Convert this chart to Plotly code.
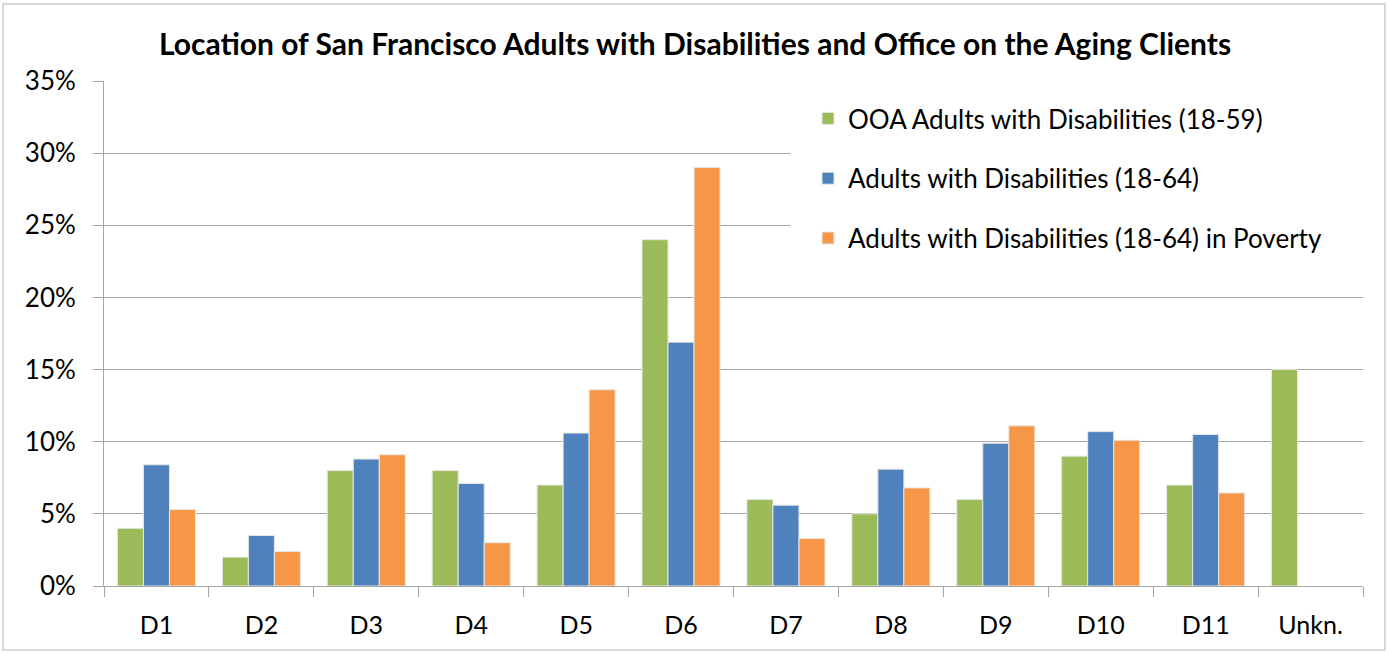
import plotly.graph_objects as go

categories = ["D1", "D2", "D3", "D4", "D5", "D6", "D7", "D8", "D9", "D10", "D11", "Unkn."]
ooa_adults = [4.0, 2.0, 8.0, 8.0, 7.0, 24.0, 6.0, 5.0, 6.0, 9.0, 7.0, 15.0]
adults_disab = [8.4, 3.5, 8.8, 7.1, 10.6, 16.9, 5.6, 8.1, 9.9, 10.7, 10.5, None]
adults_poverty = [5.3, 2.4, 9.1, 3.0, 13.6, 29.0, 3.3, 6.8, 11.1, 10.1, 6.45, None]
y_ticks = [0, 5, 10, 15, 20, 25, 30, 35]
y_tick_labels = [f"{v}%" for v in y_ticks]

series = [
    ("OOA Adults with Disabilities (18-59)", ooa_adults, "#9BBB59"),
    ("Adults with Disabilities (18-64)", adults_disab, "#4F81BD"),
    ("Adults with Disabilities (18-64) in Poverty", adults_poverty, "#F79646"),
]

FONT = "Lato"
W, H = 1390, 654
L, R, T, B = 104, 27, 81, 68
PW, PH = W - L - R, H - T - B


def px_x(px):
    return (px - L) / PW


def px_y(py):
    return (H - B - py) / PH


fig = go.Figure()
for i, (name, vals, color) in enumerate(series):
    fig.add_trace(go.Bar(
        x=categories, y=vals, name=name, legendgroup=f"g{i}",
        marker=dict(color=color, line=dict(color="#E6E6E6", width=1)),
    ))

fig.update_layout(
    width=W, height=H,
    margin=dict(l=L, r=R, t=T, b=B),
    paper_bgcolor="white", plot_bgcolor="white",
    barmode="group", bargap=0.256, bargroupgap=0,
    font=dict(family=FONT, color="#000000", size=23),
    title=dict(
        text="<b>Location of San Francisco Adults with Disabilities and Office on the Aging Clients</b>",
        x=0.5, xref="container", xanchor="center", y=1 - 44 / H, yanchor="middle",
        font=dict(family=FONT, size=30, color="#000000"),
    ),
    showlegend=True,
    legend=dict(
        x=px_x(808), y=px_y(95), xanchor="left", yanchor="top",
        bgcolor="rgba(255,255,255,0)", font=dict(family=FONT, size=26, color="#000000"),
        tracegroupgap=23, itemwidth=30, traceorder="grouped",
    ),
    xaxis=dict(
        showline=True, linecolor="#A6A6A6", linewidth=1,
        ticks="outside", ticklen=10, tickcolor="#A6A6A6",
        tickson="boundaries", showgrid=False,
        ticklabelstandoff=17,
        tickfont=dict(family=FONT, size=25, color="#000000"),
    ),
    yaxis=dict(
        range=[0, 35], tickvals=y_ticks, ticktext=y_tick_labels,
        showline=True, linecolor="#A6A6A6", linewidth=1,
        ticks="outside", ticklen=10, tickcolor="#A6A6A6",
        showgrid=True, gridcolor="#A6A6A6", gridwidth=1,
        zeroline=False, ticklabelstandoff=12,
        tickfont=dict(family=FONT, size=26, color="#000000"),
    ),
)

# outer chart border
fig.add_shape(
    type="rect", xref="paper", yref="paper",
    x0=px_x(3), x1=px_x(1385), y0=px_y(650), y1=px_y(4),
    line=dict(color="#D9D9D9", width=2), layer="below",
)
# legend box background (hides gridlines behind the legend)
fig.add_shape(
    type="rect", xref="paper", yref="paper",
    x0=px_x(790), x1=px_x(1363.5), y0=px_y(272), y1=px_y(92),
    fillcolor="white", line=dict(width=0), layer="above",
)

fig.write_html("out.html", config={"displayModeBar": False},
               post_script="document.body.style.margin='0';")
